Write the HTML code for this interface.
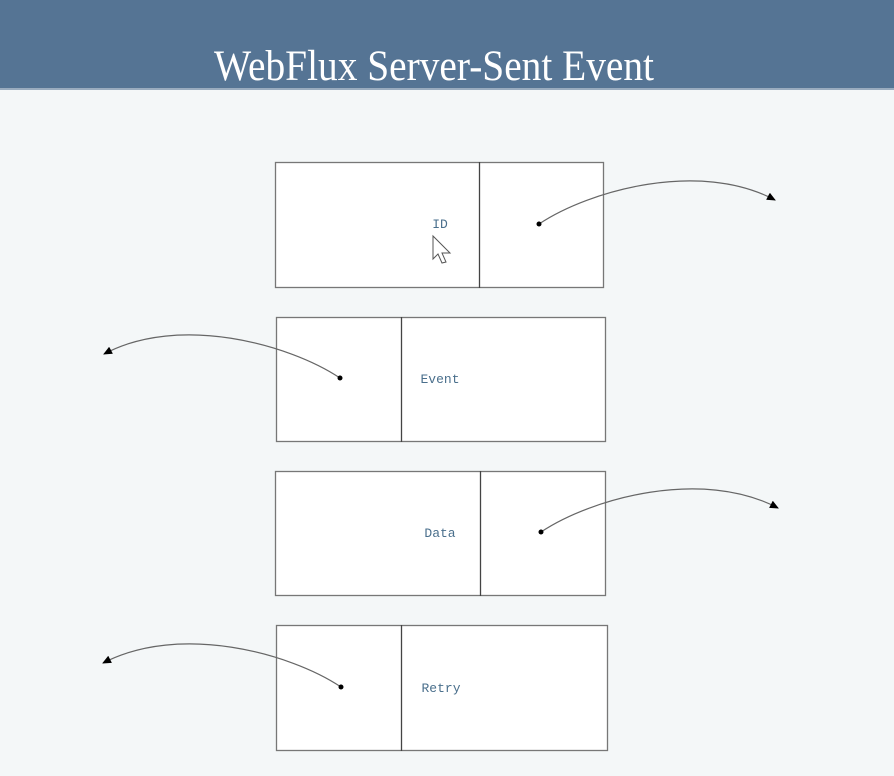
<!DOCTYPE html>
<html><head><meta charset="utf-8"><style>
html,body{margin:0;padding:0;}
body{width:894px;height:771px;background:#f4f7f8;overflow:hidden;}
</style></head><body>
<svg width="894" height="771" xmlns="http://www.w3.org/2000/svg">
<defs>
<marker id="a" markerWidth="10" markerHeight="8" refX="8" refY="4" orient="auto" markerUnits="userSpaceOnUse">
<path d="M0,0 L9,4 L0,8 z" fill="#000"/>
</marker>
</defs>
<rect x="0" y="0" width="894" height="89" fill="#557494"/>
<rect x="0" y="88" width="894" height="2" fill="#9aacbf"/>
<text x="434" y="80" text-anchor="middle" font-family="Liberation Serif, serif" font-size="43" fill="#fff" textLength="440" lengthAdjust="spacingAndGlyphs">WebFlux Server-Sent Event</text>
<g fill="#fff" stroke="#777" stroke-width="1.3">
<rect x="275.5" y="162.5" width="328" height="125"/>
<rect x="276.5" y="317.5" width="329" height="124"/>
<rect x="275.5" y="471.5" width="330" height="124"/>
<rect x="276.5" y="625.5" width="331" height="125"/>
</g>
<g stroke="#444" stroke-width="1.3">
<line x1="479.5" y1="162" x2="479.5" y2="288"/>
<line x1="401.5" y1="317" x2="401.5" y2="442"/>
<line x1="480.5" y1="471" x2="480.5" y2="596"/>
<line x1="401.5" y1="625" x2="401.5" y2="751"/>
</g>
<g font-family="Liberation Mono, monospace" font-size="13" fill="#4a6f8c" text-anchor="middle">
<text x="440" y="228">ID</text>
<text x="440" y="383">Event</text>
<text x="440" y="537">Data</text>
<text x="441" y="692">Retry</text>
</g>
<g fill="none" stroke="#666" stroke-width="1.2" marker-end="url(#a)">
<path d="M539,224 C590,190 700,160 775,200"/>
<path d="M340,378 C289,344 179,314 104,354"/>
<path d="M541,532 C592,498 702,468 778,508"/>
<path d="M341,687 C290,653 180,623 103,663"/>
</g>
<g fill="#000">
<circle cx="539" cy="224" r="2.5"/>
<circle cx="340" cy="378" r="2.5"/>
<circle cx="541" cy="532" r="2.5"/>
<circle cx="341" cy="687" r="2.5"/>
</g>
<path d="M433,236 L433,259 L438,254 L442,263 L446,262 L442,253 L450,253 Z" fill="#fff" stroke="#555" stroke-width="1"/>
</svg>
</body></html>
